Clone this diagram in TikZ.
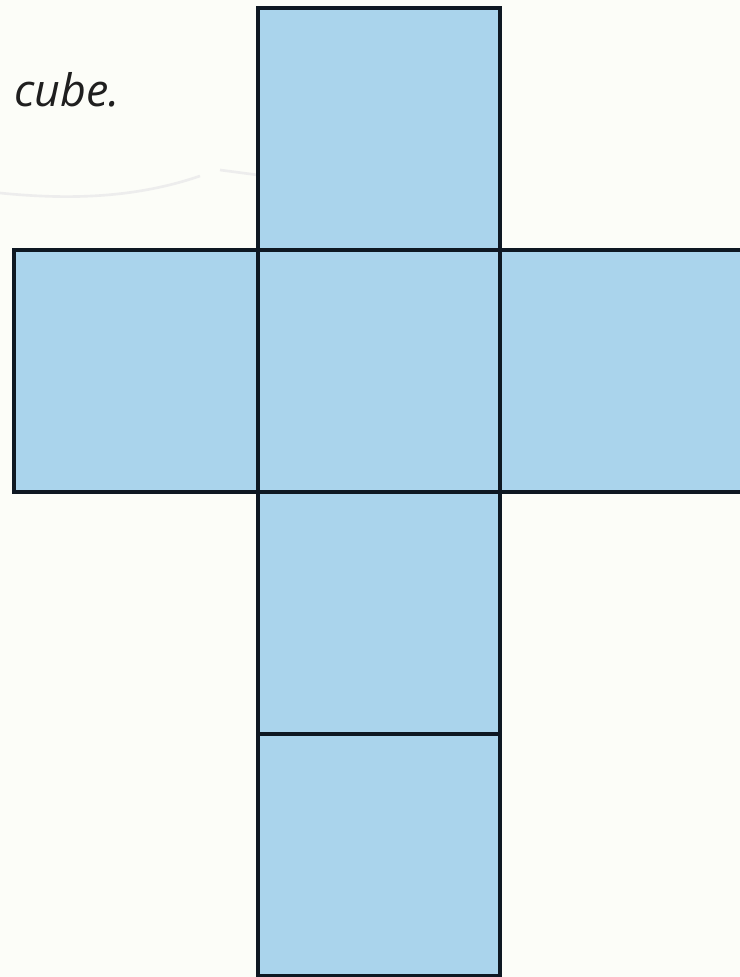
\documentclass[tikz,border=0pt]{standalone}
\usepackage{fontspec}
\setmainfont{Open Sans}
\definecolor{netblue}{RGB}{170,212,236}
\definecolor{netline}{RGB}{14,24,34}
\definecolor{paper}{RGB}{252,253,248}

\begin{document}
\begin{tikzpicture}[x=0.02cm,y=-0.02cm,
    face/.style={draw=netline,fill=netblue,line width=2.8pt,minimum size=4.84cm,
      inner sep=0pt,outer sep=0pt}]
  \clip (0,0) rectangle (740,977);
  \fill[paper] (0,0) rectangle (740,977);
  % faint pencil stroke
  \draw[black!7,line width=1.5pt] (0,193) .. controls (60,199) and (130,200) .. (200,176);
  \draw[black!7,line width=1.5pt] (220,170) -- (258,175);
  \node[anchor=base west,font=\fontsize{25.5}{30}\selectfont\itshape,text=black!88] (label) at (8,106) {cube.};
  % the net
  \node[face] (top) at (379,129) {};
  \node[face,minimum width=4.88cm] (left) at (136,371) {};
  \node[face] (right) at (621,371) {};
  \node[face] (bottom) at (379,613) {};
  \node[face] (base) at (379,855) {};
  \node[face] (front) at (379,371) {};
\end{tikzpicture}
\end{document}
